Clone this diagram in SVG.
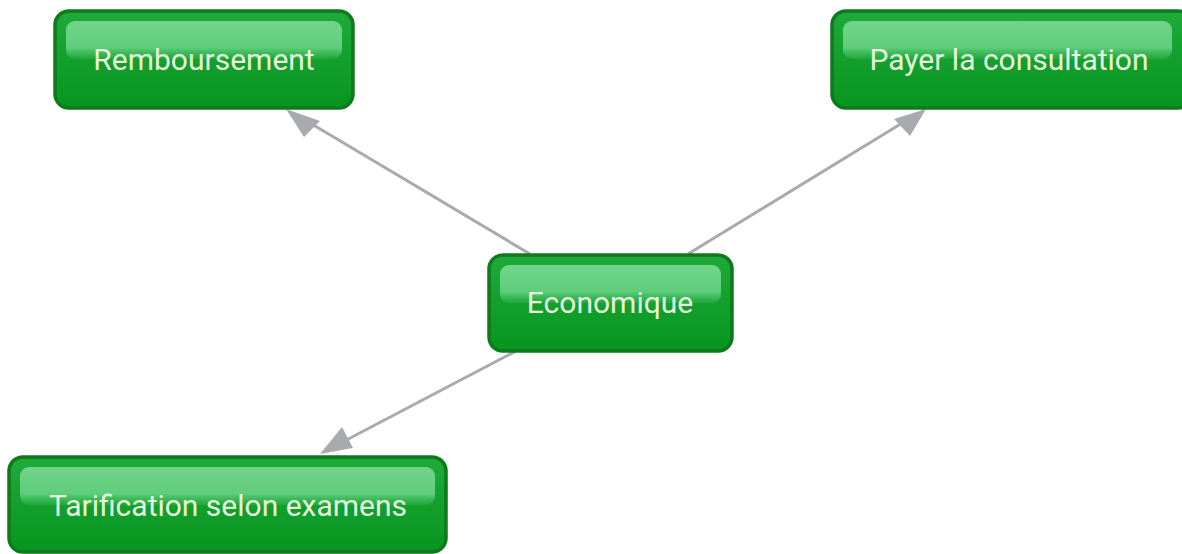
<svg xmlns="http://www.w3.org/2000/svg" width="1182" height="554" viewBox="0 0 1182 554">
<style>
.box{fill:url(#g);stroke:#0d7a1c;stroke-width:3.5}
.lbl{font-family:Roboto,"Liberation Sans",sans-serif;font-size:30px;fill:#e6f5de;text-anchor:middle;dominant-baseline:central}
.edge{stroke:#a9a9b0;stroke-width:3;fill:none}
.head{fill:#a9a9b0}
</style>
<defs>
<linearGradient id="g" x1="0" y1="0" x2="0" y2="1">
<stop offset="0" stop-color="#1faa3a"/>
<stop offset="1" stop-color="#07951f"/>
</linearGradient>
<linearGradient id="h" x1="0" y1="0" x2="0" y2="1">
<stop offset="0" stop-color="#72d48a"/>
<stop offset="0.7" stop-color="#5fcd7b"/>
<stop offset="1" stop-color="#3fbf5e" stop-opacity="0.3"/>
</linearGradient>
</defs>
<g id="connectors">
<line class="edge" x1="530" y1="254" x2="300" y2="117"/>
<path class="head" d="M286,109 L320,121 L304,137 z"/>
<line class="edge" x1="688" y1="254" x2="912" y2="117"/>
<path class="head" d="M926,109 L910,136 L894,119 z"/>
<line class="edge" x1="516" y1="351" x2="335" y2="446"/>
<path class="head" d="M320,454 L342,427 L353,448 z"/>
</g>
<g id="node-remboursement">
<rect class="box" x="55" y="11" width="298" height="97" rx="14"/>
<rect x="66" y="21" width="276" height="38" rx="9" fill="url(#h)"/>
<text class="lbl" x="204" y="59">Remboursement</text>
</g>
<g id="node-payer">
<rect class="box" x="832" y="11" width="360" height="97" rx="14"/>
<rect x="843" y="21" width="329" height="38" rx="9" fill="url(#h)"/>
<text class="lbl" x="1009" y="59">Payer la consultation</text>
</g>
<g id="node-economique">
<rect class="box" x="489" y="255" width="243" height="96" rx="14"/>
<rect x="500" y="265" width="221" height="38" rx="9" fill="url(#h)"/>
<text class="lbl" x="610" y="302">Economique</text>
</g>
<g id="node-tarification">
<rect class="box" x="9" y="457" width="437" height="95" rx="14"/>
<rect x="20" y="467" width="415" height="38" rx="9" fill="url(#h)"/>
<text class="lbl" x="228" y="505">Tarification selon examens</text>
</g>
</svg>
